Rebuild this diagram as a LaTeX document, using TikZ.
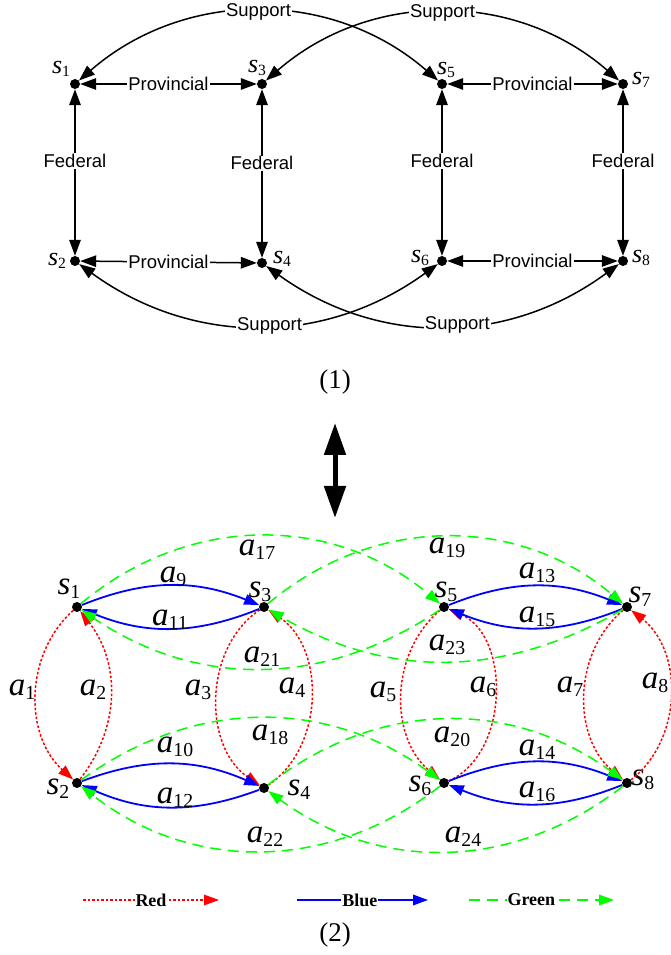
\documentclass[tikz,border=0pt]{standalone}
\usepackage{fontspec}
\usepackage{graphicx}
\setmainfont{Liberation Serif}
\setsansfont{Liberation Sans}
\usetikzlibrary{arrows.meta,positioning}
\newcommand{\idx}[2]{\textit{#1}\raisebox{-.12em}{\scalebox{.6}{#2}}}

\begin{document}
\begin{tikzpicture}[x=1pt, y=1pt,
  node distance=177pt and 184pt, on grid,
  >={Triangle[length=15pt,width=10.5pt]},
  dot/.style={circle, fill=black, inner sep=0pt, minimum size=10pt},
  rel/.style={font=\sffamily\fontsize{18.5}{20}\selectfont, fill=white, inner sep=1pt},
  link/.style={{Triangle[length=16pt,width=11.5pt]}-{Triangle[length=16pt,width=11.5pt]}, line width=1.5pt},
  snm/.style={font=\fontsize{26}{28}\selectfont, inner sep=0pt},
  anm/.style={font=\fontsize{33}{35}\selectfont, inner sep=0pt},
  redarc/.style={->, red, line width=1.5pt, dash pattern=on 2.5pt off 2pt},
  bluearc/.style={->, blue, line width=1.8pt},
  greenarc/.style={->, green, line width=1.5pt, dash pattern=on 11pt off 7pt},
  key/.style={font=\bfseries\fontsize{18}{20}\selectfont, fill=white, inner sep=1pt, text=black},
  capt/.style={font=\fontsize{27}{29}\selectfont}]
\useasboundingbox (0,0) rectangle (670,955);

% (1) signed network
\node[dot] (s1) at (75,871) {};
\node[dot, right=187pt of s1] (s3) {};
\node[dot, right=180pt of s3] (s5) {};
\node[dot, right=181pt of s5] (s7) {};
\node[dot, below=of s1] (s2) {};
\node[dot, below=179pt of s3] (s4) {};
\node[dot, below=of s5] (s6) {};
\node[dot, below=of s7] (s8) {};
\node[snm, above left=15pt and 14pt of s1] (ls1) {\idx{s}{1}};
\node[snm, above left=16pt and 5pt of s3] (ls3) {\idx{s}{3}};
\node[snm, above right=14pt and 4pt of s5] (ls5) {\idx{s}{5}};
\node[snm, above right=4pt and 18pt of s7] (ls7) {\idx{s}{7}};
\node[snm, left=18pt of s2] (ls2) {\idx{s}{2}};
\node[snm, above right=4pt and 20pt of s4] (ls4) {\idx{s}{4}};
\node[snm, above left=3pt and 22pt of s6] (ls6) {\idx{s}{6}};
\node[snm, above right=3pt and 18pt of s8] (ls8) {\idx{s}{8}};

\draw[link] (s1) -- node[rel] (p13) {Provincial} (s3);
\draw[link] (s5) -- node[rel] (p57) {Provincial} (s7);
\draw[link] (s2) -- node[rel] (p24) {Provincial} (s4);
\draw[link] (s6) -- node[rel] (p68) {Provincial} (s8);
\draw[link] (s1) -- node[rel, pos=.43] (f12) {Federal} (s2);
\draw[link] (s3) -- node[rel, pos=.44] (f34) {Federal} (s4);
\draw[link] (s5) -- node[rel, pos=.43] (f56) {Federal} (s6);
\draw[link] (s7) -- node[rel, pos=.43] (f78) {Federal} (s8);
\draw[link] (s1) to[bend left=41] node[rel] (u15) {Support} (s5);
\draw[link] (s3) to[bend left=41] node[rel] (u37) {Support} (s7);
\draw[link] (s2) to[bend right=36] node[rel, pos=.53] (u26) {Support} (s6);
\draw[link] (s4) to[bend right=36] node[rel, pos=.54] (u48) {Support} (s8);

\node[capt] (c1) at (335,573) {(1)};
\coordinate (m1) at (335,532);
\coordinate (m2) at (335,437);
\draw[line width=5pt, {Triangle[length=32pt,width=21pt]}-{Triangle[length=32pt,width=21pt]}] (m1) -- (m2);

% (2) coloured multigraph
\node[dot] (t1) at (77,348) {};
\node[dot, right=187pt of t1] (t3) {};
\node[dot, right=180pt of t3] (t5) {};
\node[dot, right=183pt of t5] (t7) {};
\node[dot, below=176pt of t1] (t2) {};
\node[dot, below=181pt of t3] (t4) {};
\node[dot, below=176pt of t5] (t6) {};
\node[dot, below=176pt of t7] (t8) {};
\node[anm, above left=18pt and 8pt of t1] (lt1) {\idx{s}{1}};
\node[anm, above left=15pt and 4pt of t3] (lt3) {\idx{s}{3}};
\node[anm, above right=15pt and 2pt of t5] (lt5) {\idx{s}{5}};
\node[anm, above right=10pt and 13pt of t7] (lt7) {\idx{s}{7}};
\node[anm, below left=6pt and 19pt of t2] (lt2) {\idx{s}{2}};
\node[anm, below right=2pt and 35pt of t4] (lt4) {\idx{s}{4}};
\node[anm, below left=3pt and 24pt of t6] (lt6) {\idx{s}{6}};
\node[anm, above right=3pt and 16pt of t8] (lt8) {\idx{s}{8}};

\draw[redarc] (t1) to[bend right=48] (t2);
\draw[redarc] (t2) to[bend right=38] (t1);
\draw[redarc] (t3) to[bend right=56] (t4);
\draw[redarc] (t4) to[bend right=56] (t3);
\draw[redarc] (t5) to[bend right=50] (t6);
\draw[redarc] (t6) to[bend right=66] (t5);
\draw[redarc] (t7) to[bend right=50] (t8);
\draw[redarc] (t8) to[bend right=52] (t7);

\draw[bluearc] (t1) to[bend left=22] (t3);
\draw[bluearc] (t3) to[bend left=22] (t1);
\draw[bluearc] (t5) to[bend left=22] (t7);
\draw[bluearc] (t7) to[bend left=22] (t5);
\draw[bluearc] (t2) to[bend left=22] (t4);
\draw[bluearc] (t4) to[bend left=22] (t2);
\draw[bluearc] (t6) to[bend left=22] (t8);
\draw[bluearc] (t8) to[bend left=22] (t6);

\draw[greenarc] (t1) to[bend left=40] (t5);
\draw[greenarc] (t5) to[bend left=34] (t1);
\draw[greenarc] (t3) to[bend left=40] (t7);
\draw[greenarc] (t7) to[bend left=30] (t3);
\draw[greenarc] (t2) to[bend left=36] (t6);
\draw[greenarc] (t6) to[bend left=38] (t2);
\draw[greenarc] (t4) to[bend left=37] (t8);
\draw[greenarc] (t8) to[bend left=37] (t4);

\node[anm] (a1) at (22,265) {\idx{a}{1}};
\node[anm] (a2) at (93,265) {\idx{a}{2}};
\node[anm] (a3) at (198,265) {\idx{a}{3}};
\node[anm] (a4) at (292,267) {\idx{a}{4}};
\node[anm] (a5) at (383,263) {\idx{a}{5}};
\node[anm] (a6) at (483,268) {\idx{a}{6}};
\node[anm] (a7) at (570,268) {\idx{a}{7}};
\node[anm] (a8) at (655,272) {\idx{a}{8}};
\node[anm] (a9) at (173,378) {\idx{a}{9}};
\node[anm] (a10) at (175,208) {\idx{a}{10}};
\node[anm] (a11) at (170,335) {\idx{a}{11}};
\node[anm] (a12) at (175,157) {\idx{a}{12}};
\node[anm] (a13) at (537,382) {\idx{a}{13}};
\node[anm] (a14) at (537,205) {\idx{a}{14}};
\node[anm] (a15) at (537,338) {\idx{a}{15}};
\node[anm] (a16) at (537,163) {\idx{a}{16}};
\node[anm] (a17) at (257,405) {\idx{a}{17}};
\node[anm] (a18) at (270,220) {\idx{a}{18}};
\node[anm] (a19) at (447,407) {\idx{a}{19}};
\node[anm] (a20) at (452,218) {\idx{a}{20}};
\node[anm] (a21) at (262,298) {\idx{a}{21}};
\node[anm] (a22) at (265,118) {\idx{a}{22}};
\node[anm] (a23) at (447,310) {\idx{a}{23}};
\node[anm] (a24) at (463,118) {\idx{a}{24}};

% legend
\coordinate (r0) at (83,55);
\coordinate (r1) at (219,55);
\coordinate (b0) at (297,55);
\coordinate (b1) at (428,55);
\coordinate (g0) at (469,55);
\coordinate (g1) at (614,55);
\draw[redarc] (r0) -- node[key] (kr) {Red} (r1);
\draw[bluearc] (b0) -- node[key, pos=.48] (kb) {Blue} (b1);
\draw[greenarc] (g0) -- node[key, pos=.43] (kg) {Green} (g1);
\node[capt] (c2) at (335,20) {(2)};
\end{tikzpicture}
\end{document}
